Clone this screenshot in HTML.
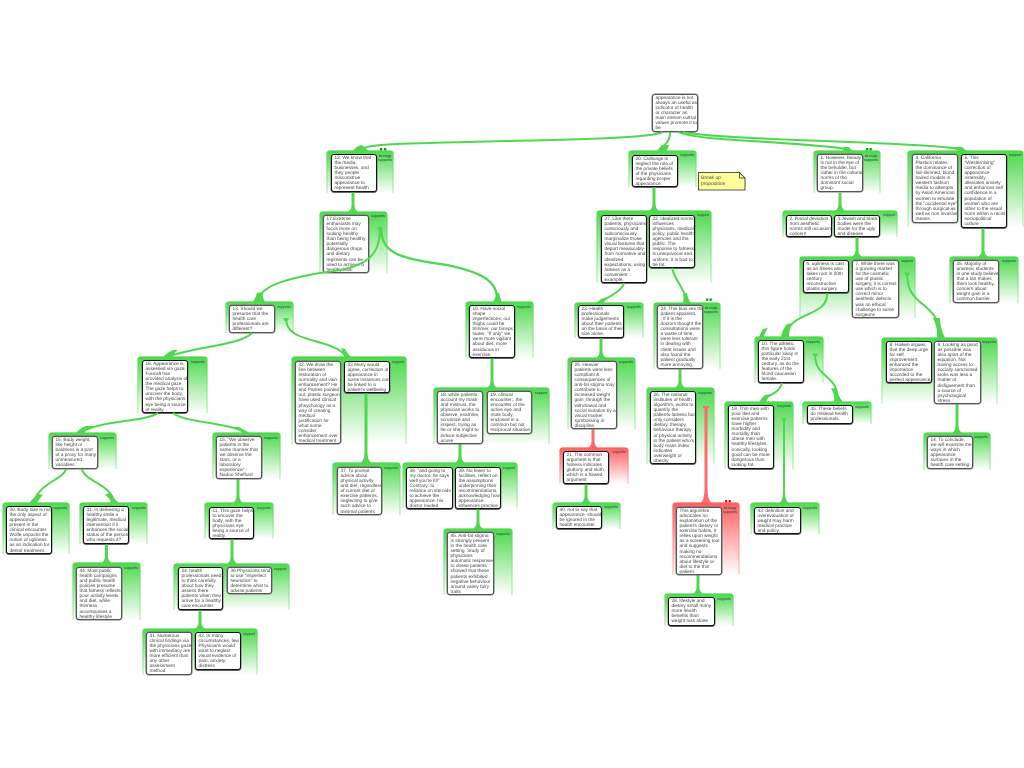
<!DOCTYPE html>
<html><head><meta charset="utf-8"><title>Argument map</title>
<style>
html,body{margin:0;padding:0;background:#fff;width:1024px;height:768px;overflow:hidden}
svg{position:absolute;left:0;top:0}
.n{position:absolute;box-sizing:border-box;background:#fff;border:1px solid #111;border-radius:3px;box-shadow:0 .6px 0 .4px #666;font:4.75px/5.1px "Liberation Sans",sans-serif;text-rendering:geometricPrecision;color:#444;padding:.8px 1px 0 2.5px;white-space:nowrap;overflow:hidden}
.g{border-color:#555;box-shadow:0 0 0 .5px #777}
.s{position:absolute;font:5px/6px "Liberation Sans",sans-serif;text-rendering:geometricPrecision;color:#444;left:701px;top:175px}
</style></head><body>
<svg width="1024" height="768" viewBox="0 0 1024 768">
<defs>
<linearGradient id="a" x1="0" y1="0" x2="0" y2="1"><stop offset="0" stop-color="#4cd94c"/><stop offset="1" stop-color="#fff"/></linearGradient>
<linearGradient id="b" x1="0" y1="0" x2="0" y2="1"><stop offset="0" stop-color="#4cd94c"/><stop offset="1" stop-color="#b4f0b4"/></linearGradient>
<linearGradient id="c" x1="0" y1="0" x2="0" y2="1"><stop offset="0" stop-color="#ff5f5f"/><stop offset="1" stop-color="#fff"/></linearGradient>
<linearGradient id="d" x1="0" y1="0" x2="0" y2="1"><stop offset="0" stop-color="#ff5f5f"/><stop offset="1" stop-color="#ffc0c0"/></linearGradient>
</defs>
<g fill="url(#a)" stroke="url(#b)" stroke-width="1.2">
<path d="M327 193V154q0-3 3-3h60q3 0 3 3v39"/>
<path d="M320 273V215q0-3 3-3h61q3 0 3 3v58"/>
<path d="M629 187V154q0-3 3-3h61q3 0 3 3v33"/>
<path d="M597 283V214q0-3 3-3h108q3 0 3 3v69"/>
<path d="M814 193V154q0-3 3-3h60q3 0 3 3v39"/>
<path d="M908 227V154q0-3 3-3h109q3 0 3 3v73"/>
<path d="M783 237V214q0-3 3-3h108q3 0 3 3v23"/>
<path d="M800 318V260q0-3 3-3h109q3 0 3 3v58"/>
<path d="M950 303V260q0-3 3-3h62q3 0 3 3v43"/>
<path d="M882 404V341q0-3 3-3h109q3 0 3 3v63"/>
<path d="M924 470V436q0-3 3-3h60q3 0 3 3v34"/>
<path d="M755 383V340q0-3 3-3h62q3 0 3 3v43"/>
<path d="M725 469V405q0-3 3-3h62q3 0 3 3v64"/>
<path d="M803 424V405q0-3 3-3h62q3 0 3 3v19"/>
<path d="M751 534V506q0-3 3-3h62q3 0 3 3v28"/>
<path d="M575 338V306q0-3 3-3h62q3 0 3 3v32"/>
<path d="M654 369V306q0-3 3-3h60q3 0 3 3v63"/>
<path d="M568 429V361q0-3 3-3h61q3 0 3 3v68"/>
<path d="M647 464V391q0-3 3-3h61q3 0 3 3v73"/>
<path d="M553 529V506q0-3 3-3h61q3 0 3 3v23"/>
<path d="M665 626V597q0-3 3-3h62q3 0 3 3v29"/>
<path d="M226 333V305q0-3 3-3h61q3 0 3 3v28"/>
<path d="M292 444V360q0-3 3-3h108q3 0 3 3v84"/>
<path d="M333 515V466q0-3 3-3h61q3 0 3 3v49"/>
<path d="M403 508V466q0-3 3-3h108q3 0 3 3v42"/>
<path d="M466 358V305q0-3 3-3h61q3 0 3 3v53"/>
<path d="M434 444V391q0-3 3-3h109q3 0 3 3v53"/>
<path d="M444 595V532q0-3 3-3h62q3 0 3 3v63"/>
<path d="M138 413V360q0-3 3-3h63q3 0 3 3v53"/>
<path d="M49 469V436q0-3 3-3h61q3 0 3 3v33"/>
<path d="M3 554V506q0-3 3-3h60q3 0 3 3v48"/>
<path d="M80 544V506q0-3 3-3h61q3 0 3 3v38"/>
<path d="M73 620V566q0-3 3-3h61q3 0 3 3v54"/>
<path d="M213 479V436q0-3 3-3h61q3 0 3 3v43"/>
<path d="M205 539V506q0-3 3-3h62q3 0 3 3v33"/>
<path d="M174 610V567q0-3 3-3h109q3 0 3 3v43"/>
<path d="M143 675V632q0-3 3-3h108q3 0 3 3v43"/>
</g>
<g fill="url(#c)" stroke="url(#d)" stroke-width="1.2">
<path d="M560 484V451q0-3 3-3h62q3 0 3 3v33"/>
<path d="M673 575V506q0-3 3-3h60q3 0 3 3v69"/>
</g>
<g font-family="Liberation Sans,sans-serif" font-size="3.6" fill="#244" text-anchor="middle">
<text x="385" y="157">strongly</text><text x="385" y="161">supports</text>
<text x="378" y="217">supports</text>
<text x="687" y="156">supports</text>
<text x="703" y="216">support</text>
<text x="871" y="157">strongly</text><text x="871" y="161">supports</text>
<text x="1015" y="156">support</text>
<text x="889" y="216">support</text>
<text x="907" y="262">support</text>
<text x="1009" y="262">supports</text>
<text x="989" y="343">supports</text>
<text x="981" y="438">supports</text>
<text x="813" y="343">supports</text>
<text x="784" y="407">supports</text>
<text x="862" y="408">supports</text>
<text x="810" y="509">supports</text>
<text x="634" y="308">supports</text>
<text x="711" y="309">strongly</text><text x="711" y="313">supports</text>
<text x="626" y="363">supports</text>
<text x="705" y="394">supports</text>
<text x="619" y="453">supports</text>
<text x="611" y="508">supports</text>
<text x="730" y="509">strongly</text><text x="730" y="513">supports</text>
<text x="724" y="600">supports</text>
<text x="284" y="308">supports</text>
<text x="398" y="363">support</text>
<text x="391" y="469">supports</text>
<text x="509" y="469">support</text>
<text x="524" y="308">supports</text>
<text x="541" y="394">support</text>
<text x="503" y="535">supports</text>
<text x="198" y="363">supports</text>
<text x="107" y="439">supports</text>
<text x="60" y="509">supports</text>
<text x="139" y="509">supports</text>
<text x="131" y="569">supports</text>
<text x="271" y="439">supports</text>
<text x="264" y="509">supports</text>
<text x="280" y="570">support</text>
<text x="249" y="635">support</text>
</g>
<path d="M698.500 172.500h41l5.500 5.500v12h-46.500z" fill="#ffff99" stroke="#222" stroke-width=".8"/>
<path d="M739.500 172.500v5.500h5.500" fill="none" stroke="#222" stroke-width=".7"/>
</svg>
<div class="s">Break up<br>proposition</div>

<div class="n g" style="left:652px;top:94px;width:46px;height:38px">appearance is not<br>always an useful as<br>indicator of health<br>or character an<br>main stream cuttral<br>values promote it to<br>be</div>
<div class="n" style="left:331px;top:154px;width:46px;height:38px">12. We know that<br>the media,<br>businesses, and<br>they people<br>misconstrue<br>appearance to<br>represent health</div>
<div class="n g" style="left:323px;top:215px;width:46px;height:58px">17.Extreme<br>enthusiasts may<br>focus more on<br>looking healthy<br>than being healthy,<br>potentially<br>dangerous drugs<br>and dietary<br>regiments can be<br>used to achieve a<br>healthy look.</div>
<div class="n" style="left:632px;top:155px;width:46px;height:32px">20. Cultivage is<br>neglect the role of<br>the private beliefs<br>of the physicians<br>regarding proper<br>appearance.</div>
<div class="n" style="left:601px;top:215px;width:46px;height:68px">27. Like there<br>patients, physicians<br>consciously and<br>subconsciously<br>marginalize those<br>visual features that<br>depart measurably<br>from normative and<br>idealized<br>expectations, using<br>fatness as a<br>convenient<br>example.</div>
<div class="n" style="left:649px;top:215px;width:46px;height:53px">22. idealized norms<br>influences<br>physicians, medical<br>policy, public health<br>agencies and the<br>public. The<br>response to fatness<br>is unequivocal and<br>uniform; it is bad to<br>be fat.</div>
<div class="n g" style="left:817px;top:154px;width:46px;height:38px">1. However, beauty<br>is not in the eye of<br>the beholder, but<br>rather in the cultural<br>norms of the<br>dominant social<br>group.</div>
<div class="n" style="left:786px;top:215px;width:46px;height:22px">2. Racial deviation<br>from aesthetic<br>norms still occasion<br>concern</div>
<div class="n" style="left:834px;top:215px;width:46px;height:22px">3.Jewish and black<br>bodies were the<br>model for the ugly<br>and disease</div>
<div class="n g" style="left:912px;top:154px;width:46px;height:69px">4. California<br>Plastics relates<br>the dominance of<br>fair-skinned, blond<br>haired models in<br>western fashion<br>media to attempts<br>by Asian American<br>women to emulate<br>the "occidental eye"<br>through surgical as<br>well as non invasive<br>means.</div>
<div class="n" style="left:961px;top:154px;width:46px;height:74px">5. This<br>"Westernising"<br>correction of<br>appearance<br>ostensibly<br>alleviates anxiety<br>and enhances self<br>confidence in a<br>population of<br>women who are<br>other to the visual<br>norm within a racist<br>sociopolitical<br>culture</div>
<div class="n g" style="left:953px;top:260px;width:46px;height:43px">35. Majority of<br>anorexic students<br>in one study believe<br>that a tan makes<br>them look healthy,<br>concern about<br>weight gain is a<br>common barrier.</div>
<div class="n" style="left:803px;top:260px;width:46px;height:33px">6. ugliness is cast<br>as an illness also<br>takes root in 20th<br>century<br>reconstructive<br>plastic surgery</div>
<div class="n g" style="left:852px;top:260px;width:47px;height:58px">7. While there was<br>a growing market<br>for the cosmetic<br>use of plastic<br>surgery, it is correct<br>use which is to<br>correct minor<br>aesthetic defects<br>was an ethical<br>challenge to some<br>surgeons</div>
<div class="n" style="left:886px;top:341px;width:46px;height:42px">8. Haiken argues,<br>that the deep urge<br>for self<br>improvement<br>enhanced the<br>importance<br>accorded to the<br>perfect appearance</div>
<div class="n g" style="left:934px;top:341px;width:47px;height:63px">9. Looking as good<br>as possible was<br>also apart of the<br>equation. Not<br>having access to<br>socially sanctioned<br>looks was less a<br>matter of<br>disfiguement than<br>a source of<br>psychological<br>stress.</div>
<div class="n g" style="left:927px;top:436px;width:46px;height:33px">14. To conclude,<br>we will examine the<br>ways in which<br>appearance<br>surfaces in the<br>health care setting.</div>
<div class="n" style="left:758px;top:340px;width:46px;height:43px">10. The athletic<br>thin figure holds<br>particular sway in<br>the early 21st<br>century, as do the<br>features of the<br>blond caucasian<br>female.</div>
<div class="n" style="left:728px;top:405px;width:46px;height:64px">19. Thin men with<br>poor diet and<br>exercise patterns<br>have higher<br>morbidity and<br>mortality than<br>obese men with<br>healthy lifestyles,<br>ironically, looking<br>good can be more<br>dangerous than<br>looking fat.</div>
<div class="n" style="left:807px;top:405px;width:46px;height:19px">35. These beliefs<br>do mislead health<br>professionals.</div>
<div class="n" style="left:754px;top:507px;width:47px;height:27px">43. definition and<br>overevaluation of<br>weight may harm<br>medical practice<br>and policy.</div>
<div class="n" style="left:578px;top:305px;width:46px;height:33px">23. Health<br>professionals<br>make judgements<br>about their patients<br>on the basis of their<br>size alone.</div>
<div class="n g" style="left:657px;top:305px;width:46px;height:64px">24. This bias vex the<br>patient apparent,<br>; if it is the<br>doctors thought the<br>consultations were<br>a waste of time,<br>were less tolerant<br>in dealing with<br>client issues and<br>also found the<br>patient gradually<br>more annoying.</div>
<div class="n g" style="left:571px;top:361px;width:46px;height:68px">25. Heavier<br>patients were less<br>compliant &amp;<br>consequences of<br>anti-fat stigma may<br>contribute to<br>increased weight<br>gain, through the<br>withdrawal and<br>social isolation by a<br>visual marker<br>symbolising in<br>discipline.</div>
<div class="n" style="left:650px;top:391px;width:46px;height:73px">26. The national<br>institutes of health<br>algorithm, works to<br>quantify the<br>patients fatness but<br>only considers<br>dietary, therapy,<br>behaviour therapy<br>or physical activity<br>in the patient who's<br>body mass index<br>indicates<br>overweight or<br>obesity</div>
<div class="n" style="left:563px;top:451px;width:46px;height:33px">21. The common<br>argument is that<br>fatness indicates<br>gluttony and sloth,<br>which is a flawed<br>argument</div>
<div class="n" style="left:556px;top:506px;width:46px;height:23px">40. not to say that<br>appearance, should<br>be ignored in the<br>health encounter.</div>
<div class="n g" style="left:676px;top:507px;width:46px;height:68px">This algorithm<br>advocates no<br>explanation of the<br>patient's dietary or<br>exercise habits, it<br>relies upon weight<br>as a screening tool<br>and suggests<br>making no<br>recommendations<br>about lifestyle or<br>diet to the thin<br>patient.</div>
<div class="n" style="left:668px;top:597px;width:47px;height:29px">28. lifestyle and<br>dietary small many<br>more health<br>benefits than<br>weight loss alone</div>
<div class="n g" style="left:229px;top:305px;width:46px;height:28px">13. Should we<br>presume that the<br>health care<br>professionals are<br>different?</div>
<div class="n" style="left:469px;top:305px;width:46px;height:53px">10. Have social<br>shape<br>imperfections; our<br>thighs could be<br>trimmer, our biceps<br>tauter. "If only" we<br>were more vigilant<br>about diet, more<br>assiduous in<br>exercise.</div>
<div class="n g" style="left:437px;top:391px;width:46px;height:53px">18. while patients<br>account my mask<br>and mistrust, the<br>physician works to<br>observe, examine,<br>scrutinize and<br>inspect, trying as<br>he or she might to<br>induce subjective<br>acuse</div>
<div class="n g" style="left:487px;top:391px;width:45px;height:43px">19. clinical<br>encounter;. the<br>encounter of the<br>active eye and<br>mute body,<br>enclosed in a<br>common but not<br>reciprocal situation.</div>
<div class="n" style="left:406px;top:467px;width:47px;height:42px">38. "and going to<br>my doctor, he says<br>well you're fit!"<br>Contrary: to<br>reliance on steroids<br>to achieve the<br>appearance. his<br>doctor lauded</div>
<div class="n" style="left:455px;top:467px;width:46px;height:42px">39. No fewer to<br>facilities, reflect on<br>the assumptions<br>underpinning their<br>recommendations,<br>acknowledging how<br>appearance<br>influences practice</div>
<div class="n g" style="left:447px;top:532px;width:47px;height:63px">45. Anti-fat stigma<br>is strongly present<br>in the health care<br>setting. Study of<br>physicians<br>automatic responses<br>to obese patients<br>showed that these<br>patients exhibited<br>negative behaviour<br>around vainly fairy<br>traits</div>
<div class="n g" style="left:295px;top:361px;width:46px;height:83px">32. We draw the<br>line between<br>restoration of<br>normality and vain<br>enhancement? He<br>and Parkes pointed<br>out, plastic surgeons<br>have used clinical<br>phsychology as a<br>way of creating<br>medical<br>justification for<br>what some<br>consider<br>enhancement over<br>medical treatment</div>
<div class="n" style="left:344px;top:361px;width:46px;height:32px">33.Many would<br>agree, correction of<br>appearance in<br>some instances can<br>be linked to a<br>patient's wellbeing</div>
<div class="n g" style="left:337px;top:467px;width:45px;height:48px">37. To prompt<br>advice about<br>physical activity<br>and diet, regardless<br>of current diet or<br>exercise patterns,<br>neglecting to give<br>such advice to<br>minimal patients</div>
<div class="n" style="left:142px;top:360px;width:46px;height:53px">16. Appearance is<br>assessed via gaze,<br>Foucalt has<br>provided analysis of<br>the medical gaze.<br>The gaze helps to<br>uncover the body,<br>with the physicians<br>eye being a source<br>of reality.</div>
<div class="n g" style="left:52px;top:436px;width:46px;height:33px">15. Body weight,<br>like height or<br>baldness is a part<br>of a proxy for many<br>unmeasured<br>variables.</div>
<div class="n g" style="left:216px;top:436px;width:46px;height:43px">15. "We observe<br>patients in the<br>same manner that<br>we observe the<br>stars, or a<br>laboratory<br>experience" -<br>Nadoo Shefford</div>
<div class="n" style="left:6px;top:506px;width:46px;height:48px">30. Body size is not<br>the only aspect of<br>appearance<br>present in the<br>clinical encounter.<br>Wolfe unpacks the<br>notion of ugliness<br>as an indication for<br>dental treatment.</div>
<div class="n" style="left:83px;top:506px;width:46px;height:38px">31. in delivering a<br>healthy smile a<br>legitimate, medical<br>intervention if it<br>enhances the social<br>status of the person<br>who requests it?</div>
<div class="n g" style="left:76px;top:567px;width:46px;height:53px">44. Most public<br>health campaigns<br>and public health<br>policies presume<br>that fatness reflects<br>poor activity levels<br>and diet, while<br>thinness<br>accompanies a<br>healthy lifestyle</div>
<div class="n" style="left:209px;top:507px;width:45px;height:32px">11. This gaze helps<br>to uncover the<br>body, with the<br>physicians eye<br>being a source of<br>reality.</div>
<div class="n" style="left:178px;top:567px;width:45px;height:43px">34. health<br>professionals need<br>to think carefully<br>about how they<br>assess there<br>patients when they<br>arrive for a healthy<br>care encounter.</div>
<div class="n g" style="left:227px;top:567px;width:45px;height:27px">36.Physicians tend<br>to use "imperfect<br>heuristics" to<br>determine what to<br>advise patients</div>
<div class="n g" style="left:146px;top:632px;width:46px;height:43px">41. Numerous<br>clinical findings via<br>the physicians gaze<br>with immediacy are<br>more efficient than<br>any other<br>assessment<br>method</div>
<div class="n" style="left:195px;top:632px;width:46px;height:38px">42. In many<br>circumstances, few<br>Physicians would<br>want to neglect<br>visual evidence of<br>pain, anxiety,<br>distress</div>

<svg width="1024" height="768" viewBox="0 0 1024 768">
<g fill="#4fd84f">
<path d="M351.500 192.500h3V205q0 5 4 7h-11q4-2 4-7z"/>
<path d="M652.500 187.500h3V204q0 5 4 7h-11q4-2 4-7z"/>
<path d="M838.500 193h3V204q0 5 4 7h-11q4-2 4-7z"/>
<path d="M855.500 237.500h3V250q0 5 4 7h-11q4-2 4-7z"/>
<path d="M981.500 228.500h3V250q0 5 4 7h-11q4-2 4-7z"/>
<path d="M955.500 404.500h3V426q0 5 4 7h-11q4-2 4-7z"/>
<path d="M599.500 338.500h3V351q0 5 4 7h-11q4-2 4-7z"/>
<path d="M678.500 369.500h3V381q0 5 4 7h-11q4-2 4-7z"/>
<path d="M584.500 484.500h3V496q0 5 4 7h-11q4-2 4-7z"/>
<path d="M696.500 575.500h3V587q0 5 4 7h-11q4-2 4-7z"/>
<path d="M364.500 393.500h3V452q0 8 4 11h-11q4-3 4-11z"/>
<path d="M490.500 358.500h3V381q0 5 4 7h-11q4-2 4-7z"/>
<path d="M458.500 444.500h3V456q0 5 4 7h-11q4-2 4-7z"/>
<path d="M476.500 509.500h3V522q0 5 4 7h-11q4-2 4-7z"/>
<path d="M105 544.500h3V556q0 5 4 7h-11q4-2 4-7z"/>
<path d="M236.500 479.500h3V496q0 5 4 7h-11q4-2 4-7z"/>
<path d="M230.500 539.500h3V557q0 5 4 7h-11q4-2 4-7z"/>
<path d="M198.500 610.500h3V622q0 5 4 7h-11q4-2 4-7z"/>
<path d="M783 419h2V492q0 8 3.500 11h-9q3.500-3 3.500-11z"/>
<path d="M781 418.500h6l-1.500 2h-3z"/>
<path d="M353 151q2-4 8-6l2 1q3 3 6 5z"/>
<path d="M657 151q3-4 5-6l7 0q-1 4-3 6z"/>
<path d="M843 151q2-3 0-4l6 0q2 3 5 4z"/>
<path d="M959 151q-2-3-6-4l9 0q3 3 6 4z"/>
<path d="M595 303q3-1 6-4l6-2q-2 4-4 6z"/>
<path d="M683 303q1-6 0-9l4-1q1 6 4 10z"/>
<path d="M493 302q3-5 3-9h3q1 5 3 9z"/>
<path d="M253 302q3-5 4-9l6-1q-1 5 2 10z"/>
<path d="M344 357q-1-5-3-9l4 1q3 5 6 8z"/>
<path d="M163 357q5-5 10-7l5 0q-4 3-6 7z"/>
<path d="M243 433q-4-3-10-6l6 0q5 3 11 6z"/>
<path d="M76 433q4-5 10-7l7 0q-6 3-9 7z"/>
<path d="M29 503q4-5 10-9l4 1q-4 4-6 8z"/>
<path d="M111 503q-1-5-6-8l4-2q4 5 10 10z"/>
<path d="M759 337q2-5 4-8l5-1q-3 4-4 9z"/>
<path d="M781 337q1-7 6-13l6-1q-4 6-4 14z"/>
<path d="M759 403q2-5 6-8l6-1q-4 4-5 9z"/>
<path d="M834 402q1-7-3-14l6 1q1 7 6 13z"/>
<path d="M937 338q1-10-4-20l7 0q0 10 5 20z"/>
<path d="M283 318h6l-1.500 3h-3z"/>
<path d="M904 272.500h6l-1.500 3h-3z"/>
<path d="M812 353.500h6l-1.500 3h-3z"/>
<path d="M377 227h6l-1.500 3h-3z"/>
</g>
<g fill="none" stroke="#4fd84f" stroke-width="2">
<path d="M663 132C648 140 520 140 430 143C385 144 366 145 356 151"/>
<path d="M670 132C670 144 663 144 660 151"/>
<path d="M678 132C700 141 770 140 840 148Q845 149 849 151"/>
<path d="M683 132C720 140 887 141 953 148Q958 149 964 151"/>
<path d="M380 228C380 258 365 268 320 273C285 279 263 286 259 298"/>
<path d="M381 228C382 252 395 258 447 265C480 272 495 280 497 296" stroke-width="2.400"/>
<path d="M624 283C622 292 605 298 600 303"/>
<path d="M672 268C675 280 683 288 686 297"/>
<path d="M286 318C286 345 330 336 347 357"/>
<path d="M252 333C240 345 200 346 170 356"/>
<path d="M158 413C145 422 100 420 80 433"/>
<path d="M173 413C185 423 228 422 246 433"/>
<path d="M66 469C63 480 40 482 33 503"/>
<path d="M82 469C85 482 110 483 115 503"/>
<path d="M827 293C828 318 790 310 785 337"/>
<path d="M782 383C778 396 768 392 763 403"/>
<path d="M815 354C815 380 838 372 838 402"/>
<path d="M907 273C907 310 938 298 941 338"/>
</g>
<g fill="#ff6b6b">
<path d="M591.500 429h3V441q0 5 4 7h-11q4-2 4-7z"/>
<path d="M704.500 408h3V490q0 9 4 13h-11q4-4 4-13z"/>
<path d="M703 406h6v2h-6z"/>
</g>
<g fill="#0a9a0a">
<rect x="380" y="148" width="2.300" height="2.300"/><rect x="384" y="148" width="2.300" height="2.300"/>
<rect x="866" y="148" width="2.300" height="2.300"/><rect x="869.500" y="148" width="2.300" height="2.300"/>
<rect x="706" y="298.500" width="2.300" height="2.300"/><rect x="709.500" y="298.500" width="2.300" height="2.300"/>
</g>
<g fill="#e01010">
<rect x="725" y="500" width="2.300" height="2.300"/><rect x="728.500" y="500" width="2.300" height="2.300"/>
</g>
</svg>
</body></html>
